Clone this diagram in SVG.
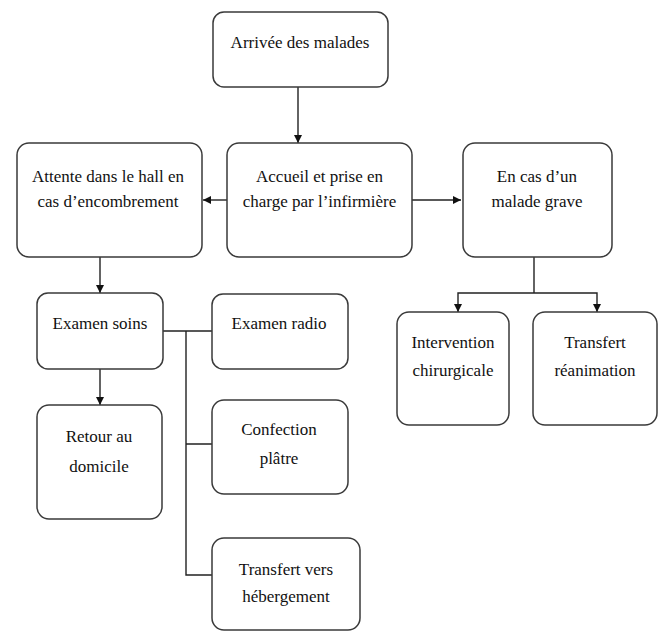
<svg xmlns="http://www.w3.org/2000/svg" width="659" height="632" viewBox="0 0 659 632">
<defs>
<marker id="ah" viewBox="0 0 10 10" refX="10" refY="5" markerWidth="8" markerHeight="8" markerUnits="userSpaceOnUse" orient="auto">
<path d="M0,0 L10,5 L0,10 z" fill="#111"/>
</marker>
</defs>
<style>
.box{fill:#fff;stroke:#3a3a3a;stroke-width:1.5}
.t{font-family:'Liberation Serif','DejaVu Serif',serif;font-size:17px;fill:#111;text-anchor:middle}
.c{fill:none;stroke:#222;stroke-width:1.4}
.a{fill:none;stroke:#222;stroke-width:1.4;marker-end:url(#ah)}
</style>
<rect width="659" height="632" fill="#fff"/>
<g id="connectors">
<path class="a" d="M298,87 V143"/>
<path class="a" d="M227,200 H203"/>
<path class="a" d="M412,200 H461"/>
<path class="c" d="M534,257 V293"/>
<path class="a" d="M534,293 H458 V312"/>
<path class="a" d="M534,293 H597 V312"/>
<path class="a" d="M100,257 V293"/>
<path class="a" d="M100,369 V405"/>
<path class="c" d="M163,331 H212 M186,331 V575 H212 M186,444 H212"/>
</g>
<g id="arrivee"><rect class="box" x="213" y="12" width="175" height="75" rx="11"/><text class="t" font-family="Liberation Serif" x="300" y="48">Arrivée des malades</text></g>
<g id="attente"><rect class="box" x="17" y="143" width="185" height="114" rx="12"/><text class="t" x="108" y="182">Attente dans le hall en</text><text class="t" x="108" y="207">cas d’encombrement</text></g>
<g id="accueil"><rect class="box" x="227" y="143" width="185" height="114" rx="12"/><text class="t" x="319.5" y="182">Accueil et prise en</text><text class="t" x="319.5" y="207">charge par l’infirmière</text></g>
<g id="grave"><rect class="box" x="463" y="143" width="149" height="114" rx="12"/><text class="t" x="537" y="182">En cas d’un</text><text class="t" x="537" y="207">malade grave</text></g>
<g id="intervention"><rect class="box" x="397" y="312" width="112" height="113" rx="12"/><text class="t" x="453" y="348">Intervention</text><text class="t" x="453" y="376">chirurgicale</text></g>
<g id="reanimation"><rect class="box" x="533" y="312" width="124" height="113" rx="12"/><text class="t" x="595" y="348">Transfert</text><text class="t" x="595" y="376">réanimation</text></g>
<g id="soins"><rect class="box" x="37" y="293" width="126" height="76" rx="11"/><text class="t" x="100" y="329">Examen soins</text></g>
<g id="retour"><rect class="box" x="37" y="405" width="125" height="114" rx="12"/><text class="t" x="99" y="442">Retour au</text><text class="t" x="99" y="472">domicile</text></g>
<g id="radio"><rect class="box" x="212" y="294" width="136" height="75" rx="11"/><text class="t" x="279" y="329">Examen radio</text></g>
<g id="platre"><rect class="box" x="212" y="400" width="136" height="94" rx="12"/><text class="t" x="279" y="435">Confection</text><text class="t" x="279" y="464">plâtre</text></g>
<g id="hebergement"><rect class="box" x="212" y="538" width="148" height="92" rx="12"/><text class="t" x="286" y="575">Transfert vers</text><text class="t" x="286" y="602">hébergement</text></g>
</svg>
